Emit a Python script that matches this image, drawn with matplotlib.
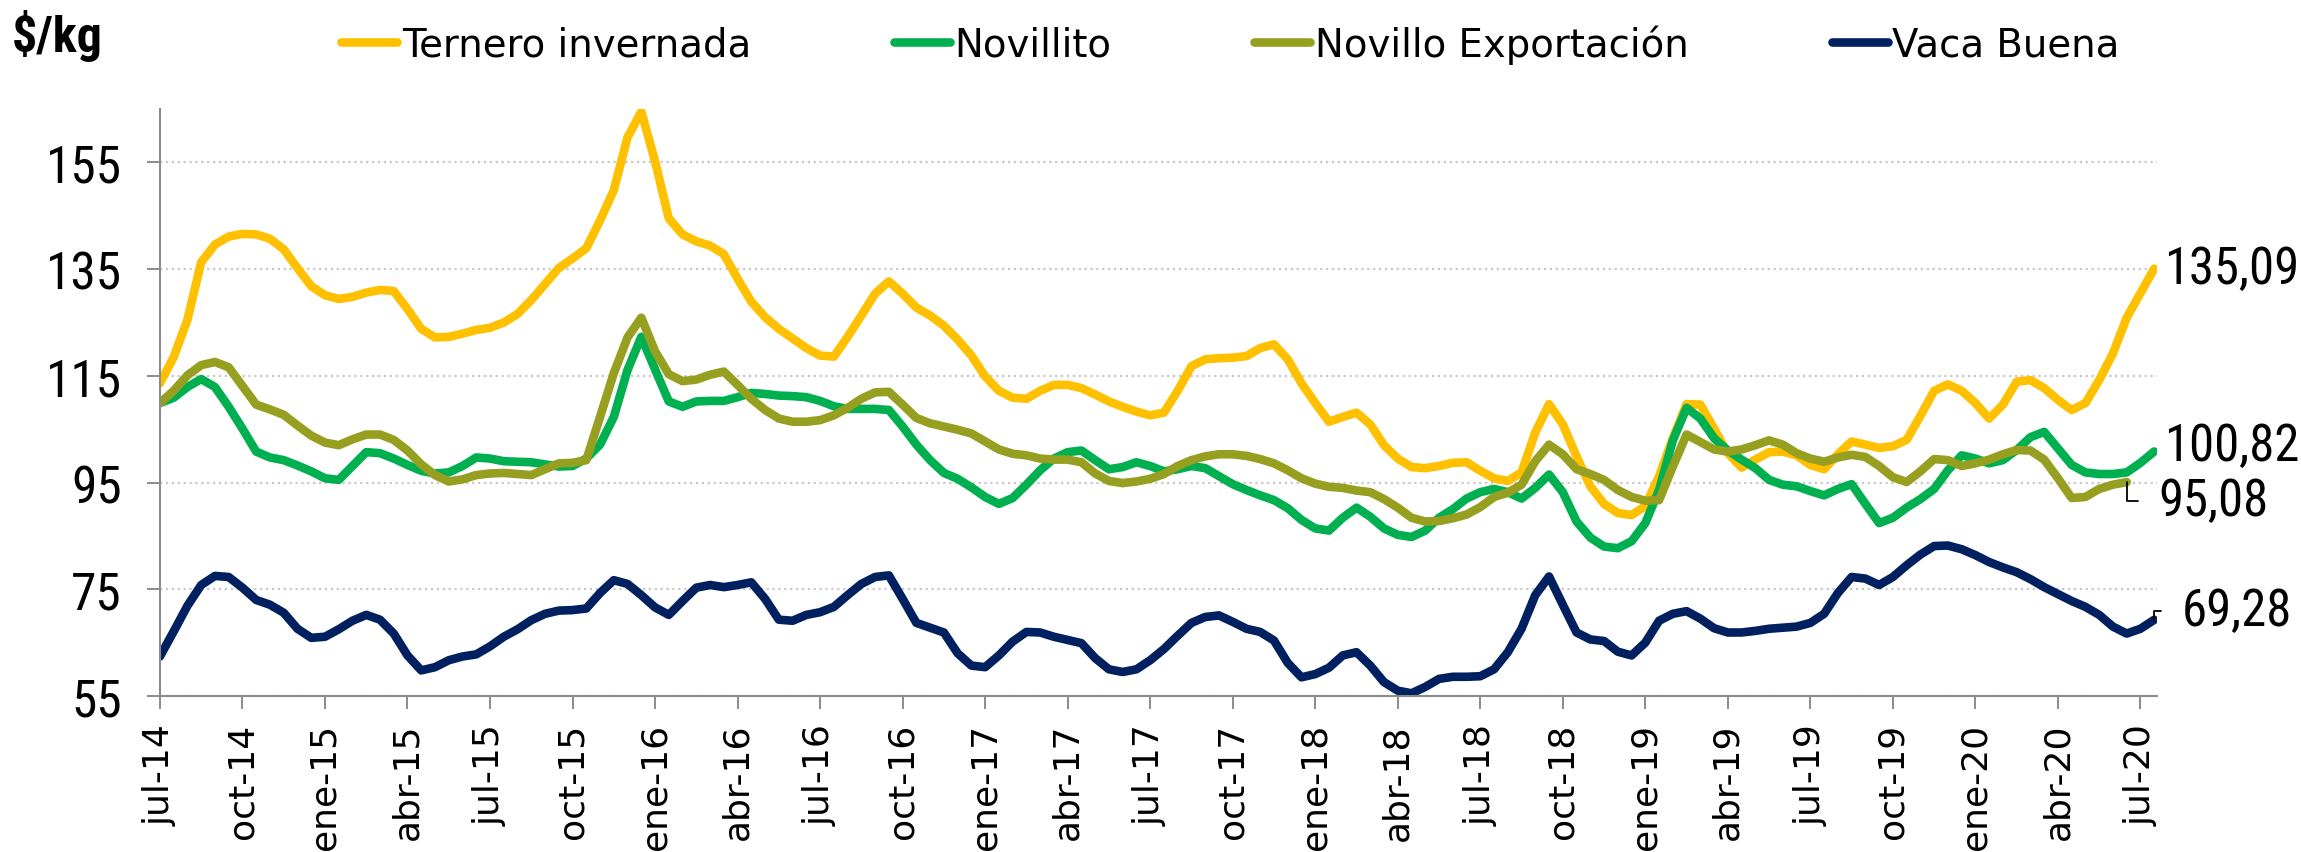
import numpy as np
import matplotlib
matplotlib.use('Agg')
import matplotlib.pyplot as plt
from matplotlib import font_manager as fm

# precios $/kg, datos cada medio mes desde jul-14
ternero = [113.6, 118.5, 125.5, 136.3, 139.6, 141.1, 141.6, 141.5, 140.7, 138.7,
           135.2, 131.8, 130.1, 129.4, 129.8, 130.6, 131.1, 130.9, 127.5, 123.8,
           122.2, 122.3, 122.9, 123.6, 124.0, 125.0, 126.6, 129.2, 132.2, 135.2,
           137.0, 138.9, 144.1, 149.8, 159.7, 164.5, 155.2, 144.5, 141.5, 140.2,
           139.4, 137.8, 133.2, 128.9, 126.0, 123.8, 122.0, 120.2, 118.8, 118.6,
           122.3, 126.3, 130.4, 132.7, 130.4, 127.8, 126.3, 124.4, 121.8,
           118.8, 114.9, 112.2, 110.9, 110.7, 112.2, 113.3, 113.3, 112.7, 111.5,
           110.2, 109.2, 108.3, 107.6, 108.1, 112.2, 116.8, 118.1, 118.3, 118.4,
           118.7, 120.2, 120.9, 118.1, 113.6, 109.9, 106.4, 107.3, 108.1,
           105.9, 102.0, 99.5, 97.9, 97.7, 98.1, 98.7, 98.8, 97.2, 95.8,
           95.3, 96.9, 104.4, 109.7, 105.9, 99.9, 94.3, 91.0, 89.3, 88.9,
           90.6, 96.2, 103.3, 109.7, 109.6, 105.1, 100.5, 97.8, 99.3,
           100.7, 100.8, 100.1, 98.3, 97.5, 100.3, 102.7, 102.1, 101.5, 101.8,
           103.0, 107.5, 112.2, 113.4, 112.2, 109.9, 107.0, 109.6, 113.9, 114.2,
           112.7, 110.5, 108.6, 109.9, 114.2, 119.2, 125.9, 130.5, 135.09]

novillito = [109.9, 110.9, 112.9, 114.4, 112.9, 109.2, 105.1, 100.8, 99.7, 99.2,
             98.2, 97.1, 95.8, 95.5, 98.1, 100.7, 100.5, 99.5, 98.3, 97.2,
             96.7, 96.9, 98.1, 99.7, 99.5, 99.0, 98.9, 98.8, 98.4, 98.0,
             98.1, 99.5, 102.1, 107.3, 116.1, 122.3, 116.2, 110.2, 109.2, 110.2,
             110.3, 110.3, 111.0, 111.8, 111.6, 111.3, 111.2, 111.0, 110.3, 109.3,
             108.8, 108.8, 108.8, 108.6, 105.5, 102.1, 99.2, 96.8, 95.7,
             94.1, 92.3, 91.0, 92.1, 94.6, 97.3, 99.5, 100.7, 101.0, 99.2,
             97.5, 97.9, 98.8, 98.1, 97.1, 97.5, 98.1, 97.7, 96.2, 94.7,
             93.6, 92.6, 91.7, 90.2, 88.0, 86.4, 86.0, 88.4, 90.3,
             88.6, 86.4, 85.2, 84.8, 86.0, 88.4, 90.0, 92.0, 93.2, 93.8,
             93.2, 92.0, 94.0, 96.5, 93.2, 87.7, 84.7, 83.0, 82.7, 84.0,
             87.4, 93.6, 102.9, 109.0, 107.0, 103.3, 101.0, 99.3, 97.7,
             95.5, 94.6, 94.3, 93.4, 92.6, 93.8, 94.7, 91.0, 87.4, 88.4,
             90.3, 91.9, 93.8, 97.3, 100.1, 99.5, 98.6, 99.2, 101.1, 103.5,
             104.5, 101.4, 98.3, 96.9, 96.6, 96.6, 96.9, 98.7, 100.82]

novillo_exp = [109.9, 112.2, 115.1, 117.0, 117.6, 116.6, 113.1, 109.6, 108.7, 107.7,
               105.7, 103.8, 102.5, 102.0, 103.1, 104.0, 104.0, 103.0, 101.0, 98.4,
               96.4, 95.2, 95.6, 96.4, 96.7, 96.8, 96.6, 96.4, 97.5, 98.6,
               98.7, 99.2, 107.3, 115.5, 122.2, 125.9, 119.6, 115.3, 114.0, 114.3,
               115.2, 115.8, 113.3, 110.7, 108.6, 107.0, 106.4, 106.4, 106.7, 107.6,
               109.0, 110.7, 111.9, 112.0, 109.6, 107.1, 106.1, 105.5, 104.9,
               104.2, 102.7, 101.2, 100.4, 100.1, 99.5, 99.3, 99.3, 98.8, 96.7,
               95.3, 94.9, 95.2, 95.7, 96.6, 98.1, 99.2, 99.9, 100.3, 100.3,
               100.0, 99.4, 98.6, 97.3, 95.8, 94.8, 94.2, 94.0, 93.5,
               93.2, 91.9, 90.3, 88.4, 87.7, 87.8, 88.3, 89.0, 90.4, 92.3,
               93.1, 94.6, 99.0, 102.1, 100.3, 97.5, 96.6, 95.5, 93.6, 92.3,
               91.6, 91.7, 98.0, 104.0, 102.6, 101.2, 100.8, 101.2, 102.0,
               102.9, 102.1, 100.5, 99.5, 98.9, 99.7, 100.2, 99.8, 98.1, 96.0,
               95.1, 97.1, 99.4, 99.2, 98.1, 98.6, 99.3, 100.3, 101.1, 101.0,
               99.3, 95.8, 92.1, 92.3, 93.8, 94.6, 95.08]

vaca = [62.4, 67.1, 71.9, 75.8, 77.5, 77.3, 75.3, 73.0, 72.1, 70.6,
        67.6, 65.9, 66.1, 67.5, 69.1, 70.2, 69.3, 66.7, 62.6, 59.8,
        60.4, 61.7, 62.4, 62.8, 64.3, 66.1, 67.5, 69.2, 70.4, 71.0,
        71.1, 71.4, 74.3, 76.7, 76.0, 73.9, 71.6, 70.2, 72.8, 75.3,
        75.8, 75.4, 75.8, 76.3, 73.2, 69.3, 69.1, 70.2, 70.7, 71.7,
        73.9, 76.0, 77.3, 77.6, 73.2, 68.7, 67.8, 66.9, 63.0,
        60.7, 60.4, 62.6, 65.2, 67.0, 66.9, 66.1, 65.5, 64.9, 62.1,
        60.0, 59.5, 60.0, 61.7, 63.8, 66.3, 68.7, 69.8, 70.1, 68.9,
        67.6, 67.0, 65.4, 61.2, 58.5, 59.1, 60.3, 62.6, 63.2,
        60.7, 57.6, 56.0, 55.5, 56.7, 58.2, 58.6, 58.6, 58.7, 60.0,
        63.2, 67.6, 73.9, 77.4, 72.1, 66.9, 65.6, 65.3, 63.3, 62.6,
        65.0, 69.1, 70.4, 70.9, 69.5, 67.7, 66.9, 66.9, 67.2,
        67.6, 67.8, 68.0, 68.7, 70.4, 74.3, 77.3, 77.0, 75.8, 77.3,
        79.5, 81.5, 83.1, 83.2, 82.5, 81.4, 80.1, 79.1, 78.2, 76.9,
        75.4, 74.1, 72.8, 71.7, 70.2, 68.0, 66.7, 67.6, 69.28]

etiquetas_x = ['jul-14', 'oct-14', 'ene-15', 'abr-15', 'jul-15', 'oct-15', 'ene-16',
               'abr-16', 'jul-16', 'oct-16', 'ene-17', 'abr-17', 'jul-17', 'oct-17',
               'ene-18', 'abr-18', 'jul-18', 'oct-18', 'ene-19', 'abr-19', 'jul-19',
               'oct-19', 'ene-20', 'abr-20', 'jul-20']
yticks = [55, 75, 95, 115, 135, 155]


# buscar una fuente angosta (Narrow / Condensed) entre las instaladas
def narrow_font(bold=False):
    found = []
    for f in fm.fontManager.ttflist:
        name = f.fname.lower()
        if not ('narrow' in name or 'condensed' in name):
            continue
        if 'italic' in name or 'oblique' in name or 'mono' in name or 'serif' in name:
            continue
        is_bold = f.weight in ('bold', 700) or 'bold' in name
        if is_bold != bold:
            continue
        if 'light' in name or 'thin' in name or 'black' in name or 'semi' in name \
                or 'extra' in name or 'medium' in name:
            continue
        found.append(f.fname)
    found.sort(key=lambda p: (0 if 'liberation' in p.lower() else
                              1 if 'roboto' in p.lower() else
                              2 if 'dejavu' in p.lower() else 3))
    if found:
        return fm.FontProperties(fname=found[0])
    return fm.FontProperties(family='Liberation Sans',
                             weight='bold' if bold else 'normal')


fp_num = narrow_font()
fp_bold = narrow_font(bold=True)

series = [('Ternero invernada', ternero, '#FFC000'),
          ('Novillito', novillito, '#00B050'),
          ('Novillo Exportación', novillo_exp, '#969F1F'),
          ('Vaca Buena', vaca, '#002060')]

fig = plt.figure(figsize=(23.01, 8.53), dpi=100)
ax = fig.add_axes([0.0695, 0.1829, 0.8679, 0.6881])

for name, vals, col in series:
    x = np.arange(len(vals)) / 2.0  # meses desde jul-14
    ax.plot(x, vals, color=col, lw=6.2, label=name,
            solid_joinstyle='round', solid_capstyle='round')

ax.set_xlim(0, 72.6)
ax.set_ylim(55, 165)
ax.set_xticks(np.arange(len(etiquetas_x)) * 3, labels=etiquetas_x,
              rotation=90, fontsize=26)
ax.set_yticks(yticks, labels=[str(v) for v in yticks])
for lbl in ax.get_yticklabels():
    lbl.set_fontproperties(fp_num)
    lbl.set_fontsize(37)
ax.tick_params(axis='x', length=9.4, width=1.4, color='#8c8c8c', pad=10)
ax.tick_params(axis='y', length=9.4, width=1.4, color='#8c8c8c', pad=18)
ax.grid(axis='y', color='#c8c8c8', linestyle=':', lw=1.6)
ax.set_axisbelow(True)
for s in ['top', 'right']:
    ax.spines[s].set_visible(False)
for s in ['left', 'bottom']:
    ax.spines[s].set_color('#8c8c8c')
    ax.spines[s].set_linewidth(1.5)

# etiquetas finales
flecha = dict(arrowstyle='-', color='black', lw=1.3,
              connectionstyle='angle,angleA=0,angleB=90,rad=0',
              shrinkA=13, shrinkB=0)
finales = [('135,09', 72.5, ternero[-1], (7, 0), None),
           ('100,82', 72.5, novillito[-1], (7, 4), None),
           ('95,08', 71.5, novillo_exp[-1], (23, -13.5), flecha),
           ('69,28', 72.5, vaca[-1], (20, 6.6), flecha)]
for txt, xe, ye, off, arr in finales:
    t = ax.annotate(txt, xy=(xe, ye), xytext=off, textcoords='offset points',
                    ha='left', va='center', fontproperties=fp_num, arrowprops=arr)
    t.set_fontsize(36.5)

t = fig.text(12 / 2301, 1 - 36 / 853, r'\$/kg', ha='left', va='center',
             fontproperties=fp_bold)
t.set_fontsize(36)

ax.legend(loc='center', bbox_to_anchor=(0.5347, 0.947),
          bbox_transform=fig.transFigure, ncol=4, frameon=False, fontsize=27.8,
          handlelength=1.45, handletextpad=0.12, columnspacing=3.7,
          borderaxespad=0, borderpad=0)

fig.savefig('out.png', dpi=100)
